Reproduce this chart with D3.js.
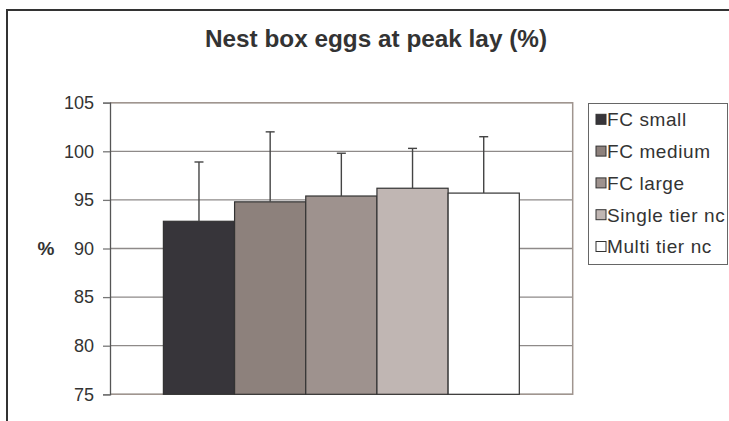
<!DOCTYPE html>
<html>
<head>
<meta charset="utf-8">
<script src="https://cdn.jsdelivr.net/npm/d3@7"></script>
<style>
  body { margin: 0; background: #fff; }
  svg { display: block; font-family: "Liberation Sans", Arial, sans-serif; }
</style>
</head>
<body>
<script>
// data
const series = ["FC small", "FC medium", "FC large", "Single tier nc", "Multi tier nc"];
const values = [92.8, 94.8, 95.4, 96.2, 95.7];
const errors = [6.1, 7.2, 4.4, 4.1, 5.8];
const colors = ["#37353a", "#8d817c", "#9e928e", "#c0b6b3", "#ffffff"];
const yTicks = [75, 80, 85, 90, 95, 100, 105];

const width = 729, height = 421;
const plot = { left: 110, right: 572.7, top: 102.7, bottom: 394.3 };

const svg = d3.select("body").append("svg")
  .attr("width", width)
  .attr("height", height);

// outer chart frame
svg.append("rect")
  .attr("x", 7).attr("y", 10)
  .attr("width", 740).attr("height", 440)
  .attr("fill", "#fff")
  .attr("stroke", "#333")
  .attr("stroke-width", 2);

// title
svg.append("text")
  .attr("x", 376).attr("y", 47)
  .attr("text-anchor", "middle")
  .attr("font-size", 24)
  .attr("font-weight", "bold")
  .attr("fill", "#333")
  .attr("textLength", 342)
  .attr("lengthAdjust", "spacingAndGlyphs")
  .text("Nest box eggs at peak lay (%)");

//escalas
const y = d3.scaleLinear()
  .domain([75, 105])
  .range([plot.bottom, plot.top]);

const x = d3.scaleBand()
  .domain(series)
  .range([plot.left, plot.right])
  .paddingInner(0)
  .paddingOuter(0.75);

// gridlines
svg.append("g")
  .selectAll("line")
  .data(yTicks)
  .join("line")
  .attr("x1", plot.left).attr("x2", plot.right)
  .attr("y1", d => y(d)).attr("y2", d => y(d))
  .attr("stroke", "#8e8a89")
  .attr("stroke-width", 1.3);

// plot frame (top, right, bottom)
svg.append("path")
  .attr("d", `M${plot.left},${plot.top}H${plot.right}V${plot.bottom}H${plot.left}`)
  .attr("fill", "none")
  .attr("stroke", "#a0958f")
  .attr("stroke-width", 1.5);

// bars
svg.append("g")
  .selectAll("rect")
  .data(series)
  .join("rect")
  .attr("x", d => x(d))
  .attr("y", (d, i) => y(values[i]))
  .attr("width", x.bandwidth())
  .attr("height", (d, i) => y(75) - y(values[i]))
  .attr("fill", (d, i) => colors[i])
  .attr("stroke", "#333")
  .attr("stroke-width", 1.2);

// error bars, upward only
const err = svg.append("g")
  .attr("stroke", "#444")
  .attr("stroke-width", 1.4);
series.forEach((s, i) => {
  const cx = x(s) + x.bandwidth() / 2;
  err.append("line")
    .attr("x1", cx).attr("x2", cx)
    .attr("y1", y(values[i])).attr("y2", y(values[i] + errors[i]));
  err.append("line")
    .attr("x1", cx - 4.5).attr("x2", cx + 4.5)
    .attr("y1", y(values[i] + errors[i])).attr("y2", y(values[i] + errors[i]));
});

// y axis
const yAxis = d3.axisLeft(y).tickValues(yTicks).tickSize(7).tickPadding(9);
const ga = svg.append("g")
  .attr("transform", `translate(${plot.left},0)`)
  .call(yAxis);
ga.select(".domain").attr("stroke", "#555").attr("stroke-width", 1.3);
ga.selectAll(".tick line").attr("stroke", "#777").attr("stroke-width", 1.3);
ga.selectAll(".tick text")
  .attr("font-size", 18)
  .attr("font-family", "'Liberation Sans', Arial, sans-serif")
  .attr("fill", "#333");

svg.append("text")
  .attr("x", 46).attr("y", y(90))
  .attr("dy", "0.35em")
  .attr("text-anchor", "middle")
  .attr("font-size", 19)
  .attr("font-weight", "bold")
  .attr("fill", "#333")
  .text("%");

// legend
const legend = svg.append("g");
legend.append("rect")
  .attr("x", 588.5).attr("y", 103.5)
  .attr("width", 139).attr("height", 161)
  .attr("fill", "#fff")
  .attr("stroke", "#666")
  .attr("stroke-width", 1);

const item = legend.selectAll("g.item")
  .data(series)
  .join("g")
  .attr("class", "item")
  .attr("transform", (d, i) => `translate(596,${119.3 + i * 31.8})`);

item.append("rect")
  .attr("x", 0).attr("y", -5)
  .attr("width", 10).attr("height", 10)
  .attr("fill", (d, i) => colors[i])
  .attr("stroke", "#333")
  .attr("stroke-width", 1);

item.append("text")
  .attr("x", 11).attr("dy", "0.36em")
  .attr("font-size", 19)
  .attr("letter-spacing", 0.6)
  .attr("fill", "#333")
  .text(d => d);
</script>
</body>
</html>
